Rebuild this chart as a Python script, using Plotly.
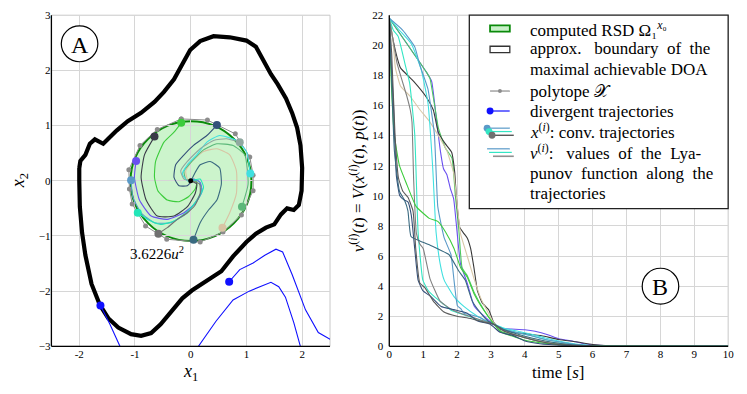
import plotly.graph_objects as go

W, H = 747, 394
SERIF = "Liberation Serif, DejaVu Serif, serif"

# ---------------- Panel A data ----------------
doa_x = [-2.00, -1.98, -1.89, -1.81, -1.72, -1.63, -1.57, -1.48, -1.33, -1.13, -0.89, -0.65, -0.48, -0.30,
         -0.15, -0.01, 0.17, 0.41, 0.70, 1.00, 1.17, 1.29, 1.44, 1.56, 1.71, 1.82, 1.91, 1.97, 2.00, 1.99,
         1.94, 1.85, 1.73, 1.62, 1.50, 1.35, 1.17, 1.00, 0.76, 0.55, 0.41, 0.20, 0.02, -0.15, -0.36, -0.54,
         -0.71, -0.89, -1.07, -1.30, -1.48, -1.63, -1.78, -1.89, -1.95, -1.99, -2.00, -2.00]
doa_y = [0.23, 0.36, 0.47, 0.67, 0.75, 0.71, 0.67, 0.76, 0.91, 1.08, 1.23, 1.43, 1.61, 1.84,
         2.13, 2.37, 2.53, 2.62, 2.60, 2.54, 2.43, 2.19, 1.93, 1.75, 1.49, 1.23, 0.96, 0.64, 0.23, -0.18,
         -0.44, -0.53, -0.50, -0.61, -0.79, -0.85, -0.96, -1.11, -1.37, -1.64, -1.73, -1.87, -1.99, -2.13, -2.37, -2.60,
         -2.76, -2.81, -2.78, -2.66, -2.49, -2.25, -1.87, -1.35, -0.94, -0.47, 0.0, 0.23]

rsd_center = (0.005, -0.005)
rsd_radius = 1.085
rsd_level_label = "3.6226<i>u</i><sup>2</sup>"

poly_x = [-0.17, -0.60, -0.91, -1.11, -1.10, -1.05, -0.81, -0.43, 0.17, 0.58, 0.91, 1.12, 1.12, 1.06, 0.80, 0.30, -0.17]
poly_y = [1.12, 0.93, 0.64, 0.20, -0.15, -0.42, -0.82, -1.06, -1.11, -0.93, -0.62, -0.18, 0.10, 0.43, 0.85, 1.10, 1.12]

traj = {
    "green":   ("#3ccc3c", [-0.17, -0.30, -0.48, -0.63, -0.65, -0.59, -0.42, -0.21, -0.04, 0.08, 0.11, 0.04, 0.0],
                           [1.05, 0.88, 0.70, 0.35, 0.06, -0.18, -0.35, -0.38, -0.29, -0.15, -0.03, 0.03, 0.0]),
    "navy":    ("#34507a", [0.47, 0.29, 0.05, -0.12, -0.27, -0.30, -0.21, -0.06, 0.02, 0.0],
                           [1.01, 0.82, 0.64, 0.47, 0.29, 0.06, -0.09, -0.09, 0.0, 0.0]),
    "black":   ("#3a3a48", [-0.65, -0.83, -0.89, -0.80, -0.60, -0.30, -0.06, 0.08, 0.11, 0.0],
                           [0.80, 0.47, 0.06, -0.35, -0.64, -0.64, -0.47, -0.23, -0.06, 0.0]),
    "purple":  ("#6a50f0", [-0.98, -1.01, -0.92, -0.71, -0.42, -0.12, 0.08, 0.20, 0.17, 0.05, 0.0],
                           [0.36, 0.06, -0.35, -0.64, -0.70, -0.58, -0.41, -0.20, -0.03, 0.03, 0.0]),
    "steel":   ("#5a9ac8", [-1.07, -1.04, -0.89, -0.65, -0.36, -0.06, 0.11, 0.20, 0.14, 0.0],
                           [0.01, -0.29, -0.58, -0.76, -0.76, -0.58, -0.35, -0.15, 0.0, 0.0]),
    "aqua":    ("#22e6b8", [-0.95, -0.77, -0.54, -0.30, -0.06, 0.14, 0.23, 0.17, 0.0],
                           [-0.58, -0.70, -0.79, -0.73, -0.56, -0.32, -0.12, 0.03, 0.0]),
    "gray":    ("#707070", [-0.58, -0.42, -0.24, -0.06, 0.08, 0.17, 0.16, 0.0],
                           [-0.96, -0.85, -0.70, -0.58, -0.44, -0.23, -0.06, 0.0]),
    "teal":    ("#3a6a80", [0.05, 0.17, 0.32, 0.47, 0.55, 0.52, 0.35, 0.17, 0.08, 0.02, 0.0],
                           [-1.07, -0.76, -0.53, -0.35, -0.06, 0.23, 0.35, 0.29, 0.15, 0.03, 0.0]),
    "tan":     ("#d8c4a4", [0.57, 0.70, 0.82, 0.82, 0.70, 0.47, 0.23, 0.02, -0.09, -0.06, 0.0],
                           [-0.85, -0.58, -0.23, 0.18, 0.47, 0.58, 0.53, 0.35, 0.18, 0.03, 0.0]),
    "seagreen": ("#5cb87a", [0.92, 1.03, 0.97, 0.76, 0.47, 0.23, 0.02, -0.12, -0.09, 0.0],
                            [-0.47, -0.06, 0.47, 0.64, 0.67, 0.56, 0.35, 0.18, 0.03, 0.0]),
    "cyan":    ("#40e0e0", [1.07, 1.00, 0.82, 0.52, 0.29, 0.11, -0.06, -0.15, -0.06, 0.0],
                           [0.13, 0.53, 0.73, 0.82, 0.70, 0.47, 0.29, 0.12, 0.0, 0.0]),
    "graygreen": ("#90a8a0", [0.88, 0.64, 0.41, 0.17, -0.06, -0.18, -0.12, 0.0],
                             [0.70, 0.76, 0.73, 0.58, 0.35, 0.18, 0.03, 0.0]),
}

div1_x = [-1.62, -1.45, -1.27, -1.0, 0.0, 0.14, 0.45, 0.76, 1.05, 1.35, 1.44, 1.58, 1.70, 1.85, 1.97, 2.05]
div1_y = [-2.26, -2.60, -3.00, -3.6, -3.6, -3.00, -2.55, -2.16, -2.00, -1.87, -1.84, -1.92, -2.11, -2.57, -3.00, -3.30]
div2_x = [0.69, 0.88, 1.12, 1.33, 1.53, 1.65, 1.82, 2.06, 2.29, 2.50, 2.70]
div2_y = [-1.83, -1.61, -1.49, -1.35, -1.24, -1.29, -1.70, -2.34, -2.75, -2.87, -2.90]

# ---------------- Panel B data ----------------
vcurves = {
    "purple": ("#6a50f0",
               [0, 1.1, 1.25, 1.4, 1.5, 1.6, 1.7, 1.8, 1.9, 2.0, 2.1, 2.3, 2.5, 2.7, 2.9, 3.1, 3.3, 3.6, 4.0, 4.3, 4.7, 5.0, 5.4, 5.8, 6.2, 6.7, 10],
               [21.8, 18.2, 17.6, 14.9, 13.1, 11.8, 11.4, 10.5, 9.8, 7.6, 5.5, 4.2, 2.7, 2.2, 1.8, 1.4, 1.2, 1.15, 1.1, 1.0, 0.75, 0.5, 0.35, 0.15, 0.06, 0, 0]),
    "seagreen": ("#4cc860",
                 [0, 1.1, 1.2, 1.45, 1.65, 1.85, 1.95, 2.05, 2.15, 2.3, 2.5, 2.8, 3.1, 3.3, 3.6, 4.0, 4.4, 4.8, 5.2, 5.6, 6.0, 6.6, 10],
                 [21.8, 18.2, 17.8, 14.5, 13.2, 12.5, 10.0, 7.8, 5.2, 4.7, 3.6, 2.4, 1.45, 1.0, 0.8, 0.6, 0.35, 0.25, 0.15, 0.08, 0.03, 0, 0]),
    "black": ("#3a3a3a",
              [0, 0.1, 0.23, 0.33, 0.72, 1.11, 1.3, 1.45, 1.64, 1.84, 1.93, 1.98, 2.08, 2.2, 2.3, 2.4, 2.5, 2.6, 2.74, 2.94, 3.08, 3.27, 3.6, 4.05, 4.5, 5.0, 5.5, 6.0, 6.5, 10],
              [21.8, 20.5, 19.2, 18.5, 17.6, 16.5, 15.7, 14.2, 13.5, 12.9, 11.6, 9.9, 7.9, 7.5, 7.2, 6.5, 5.2, 3.7, 2.9, 2.4, 1.6, 1.15, 0.95, 0.83, 0.7, 0.45, 0.3, 0.12, 0.03, 0]),
    "tan": ("#d8c8a8",
            [0, 0.1, 0.18, 0.33, 0.62, 0.91, 1.2, 1.5, 1.7, 1.9, 2.0, 2.1, 2.3, 2.5, 2.7, 2.9, 3.1, 3.4, 3.8, 4.2, 4.6, 5.0, 5.5, 6.0, 10],
            [21.8, 20.5, 18.5, 17.3, 16.6, 15.7, 14.9, 13.8, 13.0, 11.5, 9.5, 7.5, 6.0, 4.5, 3.2, 2.3, 1.5, 1.0, 0.7, 0.5, 0.3, 0.18, 0.08, 0.02, 0]),
    "aqua": ("#33e6c4",
             [0, 0.12, 0.26, 0.46, 0.6, 0.75, 0.85, 0.99, 1.15, 1.33, 1.6, 1.82, 2.2, 2.6, 2.9, 3.1, 3.4, 3.8, 4.2, 4.6, 5.0, 5.5, 6.0, 10],
             [21.8, 21.0, 20.6, 18.8, 17.5, 14.1, 7.6, 4.4, 3.7, 3.3, 2.8, 2.4, 2.1, 1.8, 1.6, 1.45, 1.15, 0.9, 0.7, 0.45, 0.3, 0.12, 0.03, 0]),
    "cyan": ("#40e0e0",
             [0, 0.3, 0.65, 0.94, 1.14, 1.28, 1.38, 1.5, 1.62, 1.91, 2.2, 2.6, 2.9, 3.1, 3.4, 3.8, 4.2, 4.6, 5.0, 5.5, 6.0, 10],
             [21.8, 21.0, 20.1, 18.4, 16.2, 11.9, 7.6, 5.5, 4.4, 3.3, 2.65, 2.0, 1.65, 1.45, 1.2, 1.0, 0.8, 0.55, 0.35, 0.15, 0.04, 0]),
    "steel": ("#5a9ac8",
              [0, 0.4, 0.75, 0.9, 1.14, 1.33, 1.43, 1.53, 1.62, 1.82, 1.91, 2.01, 2.11, 2.2, 2.4, 2.7, 2.9, 3.1, 3.4, 3.8, 4.2, 4.6, 5.0, 5.5, 6.0, 10],
              [21.8, 21.0, 19.9, 18.7, 17.1, 14.1, 9.3, 8.1, 7.2, 6.1, 4.4, 2.7, 2.5, 2.2, 2.1, 1.9, 1.6, 1.45, 1.1, 0.9, 0.7, 0.45, 0.3, 0.12, 0.03, 0]),
    "gray": ("#808080",
             [0, 0.1, 0.23, 0.52, 0.62, 0.67, 0.72, 0.8, 0.9, 1.0, 1.2, 1.5, 1.8, 2.1, 2.5, 2.9, 3.1, 3.4, 3.8, 4.2, 4.6, 5.0, 5.5, 6.0, 10],
             [21.8, 20.5, 18.8, 16.6, 15.7, 14.9, 11.0, 7.5, 6.8, 6.5, 4.5, 3.0, 2.5, 2.2, 1.9, 1.6, 1.45, 1.0, 0.7, 0.45, 0.25, 0.15, 0.06, 0.02, 0]),
    "green": ("#3ccc3c",
              [0, 0.05, 0.15, 0.3, 0.5, 0.79, 1.18, 1.43, 1.66, 1.91, 2.11, 2.3, 2.5, 2.79, 3.1, 3.3, 3.6, 4.0, 4.4, 4.8, 5.2, 5.6, 6.0, 10],
              [21.8, 18.0, 14.0, 12.0, 10.85, 9.3, 8.5, 8.3, 7.6, 6.5, 5.2, 4.6, 3.5, 2.4, 1.45, 0.95, 0.7, 0.4, 0.25, 0.15, 0.07, 0.03, 0.01, 0]),
    "navy": ("#34507a",
             [0, 0.05, 0.12, 0.21, 0.31, 0.45, 0.55, 0.65, 0.75, 0.85, 0.99, 1.23, 1.53, 1.91, 2.3, 2.59, 2.98, 3.27, 3.66, 3.96, 4.44, 5.2, 6.2, 10],
             [21.8, 19.0, 16.2, 11.3, 10.0, 9.7, 9.6, 8.7, 6.5, 4.4, 3.7, 3.3, 2.65, 2.44, 2.2, 1.7, 1.47, 0.93, 0.71, 0.39, 0.17, 0.06, 0.0, 0]),
    "teal": ("#3a6a80",
             [0, 0.05, 0.15, 0.3, 0.45, 0.55, 0.64, 0.9, 1.18, 1.5, 1.76, 2.05, 2.24, 2.45, 2.7, 2.9, 3.1, 3.4, 3.8, 4.2, 4.6, 5.0, 5.5, 6.0, 10],
             [21.8, 19.0, 13.0, 10.3, 9.7, 9.0, 7.3, 7.0, 6.75, 6.4, 6.1, 5.0, 4.4, 3.0, 2.2, 1.7, 1.45, 1.1, 0.8, 0.55, 0.35, 0.2, 0.08, 0.02, 0]),
    "dgray": ("#5a5a5a",
              [0, 0.07, 0.17, 0.27, 0.4, 0.55, 0.7, 0.78, 0.9, 1.05, 1.3, 1.6, 2.0, 2.4, 2.8, 3.1, 3.4, 3.8, 4.2, 4.6, 5.0, 5.6, 6.2, 10],
              [21.8, 19.5, 14.0, 11.2, 10.3, 9.9, 9.0, 6.5, 4.2, 3.9, 3.0, 2.3, 2.0, 1.85, 1.6, 1.45, 1.0, 0.7, 0.45, 0.25, 0.12, 0.04, 0.0, 0]),
}

x1_ticks = [-2, -1, 0, 1, 2]
x1_labels = ["-2", "-1", "0", "1", "2"]
x2_ticks = [-3, -2, -1, 0, 1, 2, 3]
x2_labels = ["−3", "−2", "−1", "0", "1", "2", "3"]
t_ticks = list(range(0, 11))
v_ticks = list(range(0, 23, 2))

# ---------------- figure ----------------
fig = go.Figure()

def px(x):
    return x / W

def py(y):
    return 1 - y / H

# DOA band
fig.add_trace(go.Scatter(x=doa_x, y=doa_y, mode="lines", line=dict(color="black", width=4.2),
                         xaxis="x", yaxis="y", showlegend=False, hoverinfo="skip"))
# polytope
fig.add_trace(go.Scatter(x=poly_x, y=poly_y, mode="lines+markers", line=dict(color="#8c8c8c", width=1),
                         marker=dict(color="#8c8c8c", size=5), xaxis="x", yaxis="y", showlegend=False))
# trajectories
for name, (col, xs, ys) in traj.items():
    fig.add_trace(go.Scatter(x=xs, y=ys, mode="lines", line=dict(color=col, width=1.1, shape="spline", smoothing=0.5),
                             xaxis="x", yaxis="y", showlegend=False))
for name, (col, xs, ys) in traj.items():
    fig.add_trace(go.Scatter(x=[xs[0]], y=[ys[0]], mode="markers", marker=dict(color=col, size=8),
                             xaxis="x", yaxis="y", showlegend=False))
fig.add_trace(go.Scatter(x=[0], y=[0], mode="markers", marker=dict(color="black", size=5),
                         xaxis="x", yaxis="y", showlegend=False))
# divergent
for xs, ys in [(div1_x, div1_y), (div2_x, div2_y)]:
    fig.add_trace(go.Scatter(x=xs, y=ys, mode="lines", line=dict(color="#1010ff", width=1.1),
                             xaxis="x", yaxis="y", showlegend=False))
    fig.add_trace(go.Scatter(x=[xs[0]], y=[ys[0]], mode="markers", marker=dict(color="#1010ff", size=8),
                             xaxis="x", yaxis="y", showlegend=False))

# v curves
for name, (col, ts, vs) in vcurves.items():
    fig.add_trace(go.Scatter(x=ts, y=vs, mode="lines", line=dict(color=col, width=1.1, shape="spline", smoothing=0.4),
                             xaxis="x2", yaxis="y2", showlegend=False))

tickfont = dict(family=SERIF, size=11, color="black")
grid = "#d6d6d6"
axcommon = dict(showgrid=True, gridcolor=grid, gridwidth=1, zeroline=False, showline=False,
                ticks="", tickfont=tickfont)
LX0, LX1, TOP, BOT = 49, 331, 9.5, 351
RX0, RX1 = 391, 734
fig.update_layout(
    width=W, height=H, margin=dict(l=0, r=0, t=0, b=0),
    paper_bgcolor="white", plot_bgcolor="white",
    font=dict(family=SERIF),
    xaxis=dict(domain=[px(LX0), px(LX1)], range=[-2.5, 2.5], tickvals=x1_ticks, ticktext=x1_labels,
               anchor="y", **axcommon),
    yaxis=dict(domain=[py(BOT), py(TOP)], range=[-3, 3], tickvals=x2_ticks, ticktext=x2_labels,
               anchor="x", **axcommon),
    xaxis2=dict(domain=[px(RX0), px(RX1)], range=[0, 10], tickvals=t_ticks, anchor="y2", **axcommon),
    yaxis2=dict(domain=[py(BOT), py(TOP)], range=[0, 22], tickvals=v_ticks, anchor="x2",
                ticklabelstandoff=5, **axcommon),
)

shapes = []
# RSD ellipse
shapes.append(dict(type="circle", xref="x", yref="y", layer="below",
                   x0=rsd_center[0] - rsd_radius, x1=rsd_center[0] + rsd_radius,
                   y0=rsd_center[1] - rsd_radius, y1=rsd_center[1] + rsd_radius,
                   fillcolor="rgba(0,200,0,0.2)", line=dict(color="#0a8a0a", width=2)))
# frames
for x0, x1 in [(LX0, LX1), (RX0, RX1)]:
    shapes.append(dict(type="rect", xref="paper", yref="paper", x0=px(x0), x1=px(x1), y0=py(BOT), y1=py(TOP),
                       line=dict(color="#c8c8c8", width=1), layer="below"))
    shapes.append(dict(type="line", xref="paper", yref="paper", x0=px(x0), x1=px(x0), y0=py(BOT), y1=py(TOP),
                       line=dict(color="black", width=1.3)))
    shapes.append(dict(type="line", xref="paper", yref="paper", x0=px(x0), x1=px(x1), y0=py(BOT), y1=py(BOT),
                       line=dict(color="black", width=1.3)))
# circled labels
for cx, cy in [(77.5, 39), (665.5, 289)]:
    r = 18.5
    shapes.append(dict(type="circle", xref="paper", yref="paper", x0=px(cx - r), x1=px(cx + r),
                       y0=py(cy + r), y1=py(cy - r), fillcolor="white", line=dict(color="black", width=1.2)))
# legend box
shapes.append(dict(type="rect", xref="paper", yref="paper", x0=px(472), x1=px(734), y0=py(209), y1=py(9.5),
                   fillcolor="white", line=dict(color="#222", width=1.3)))
# legend symbols
shapes.append(dict(type="rect", xref="paper", yref="paper", x0=px(493), x1=px(513), y0=py(26.5), y1=py(20),
                   fillcolor="#c8f0c8", line=dict(color="#0a8a0a", width=1.8)))
shapes.append(dict(type="rect", xref="paper", yref="paper", x0=px(493), x1=px(513), y0=py(48), y1=py(41.5),
                   fillcolor="white", line=dict(color="#333", width=1.3)))
def hline(x0, x1, y, col, w=1.2):
    shapes.append(dict(type="line", xref="paper", yref="paper", x0=px(x0), x1=px(x1), y0=py(y), y1=py(y),
                       line=dict(color=col, width=w)))
def dot(x, y, col, r):
    shapes.append(dict(type="circle", xref="paper", yref="paper", x0=px(x - r), x1=px(x + r),
                       y0=py(y + r), y1=py(y - r), fillcolor=col, line=dict(color=col, width=0)))
hline(493, 513, 87.7, "#8c8c8c")
dot(503, 87.7, "#8c8c8c", 2)
hline(493, 513, 108.3, "#1010ff")
dot(493, 108.3, "#1010ff", 3.5)
hline(490, 513, 126, "#5a9ac8")
hline(492, 515, 129.5, "#33e6c4")
hline(495, 517, 133.3, "#3a3a3a")
dot(490, 126, "#5a9ac8", 3.5)
dot(492, 129.5, "#33e6c4", 3.5)
dot(495, 133.3, "#707070", 3.5)
hline(490, 513, 147.3, "#5a9ac8")
hline(492, 515, 151, "#33e6c4")
hline(496, 517, 155, "#909090", 1.6)

fig.update_layout(shapes=shapes)

ann = []
def text(x, y, s, size=17, xanchor="left", angle=0):
    ann.append(dict(x=px(x), y=py(y), xref="paper", yref="paper", text=s, showarrow=False,
                    xanchor=xanchor, yanchor="middle", textangle=angle,
                    font=dict(family=SERIF, size=size, color="black")))
legend_lines = [
    (23.3, "computed RSD Ω₁<sup><i>x</i>₀</sup>"),
    (44.3, "approx.&nbsp;&nbsp; boundary&nbsp; of&nbsp; the"),
    (65.7, "maximal achievable DOA"),
    (87.7, "polytope 𝒳"),
    (108.3, "divergent trajectories"),
    (129.3, "<i>x</i><sup>(<i>i</i>)</sup>: conv. trajectories"),
    (151, "<i>v</i><sup>(<i>i</i>)</sup>:&nbsp;&nbsp; values&nbsp; of&nbsp; the&nbsp; Lya-"),
    (172.7, "punov&nbsp; function&nbsp; along&nbsp; the"),
    (193.3, "trajectories"),
]
for yy, s in legend_lines:
    text(531.7, yy, s, size=17)

text(77.5, 40, "A", size=24, xanchor="center")
text(665.5, 290, "B", size=24, xanchor="center")
text(156, 255, rsd_level_label, size=15, xanchor="center")
text(190, 378, "<i>x</i><sub>1</sub>", size=18, xanchor="center")
text(17, 180, "<i>x</i><sub>2</sub>", size=18, xanchor="center", angle=-90)
text(562, 378, "time [<i>s</i>]", size=17, xanchor="center")
text(358, 180, "<i>v</i><sup>(<i>i</i>)</sup>(<i>t</i>) = <i>V</i>(<i>x</i><sup>(<i>i</i>)</sup>(<i>t</i>), <i>p</i>(<i>t</i>))",
     size=17, xanchor="center", angle=-90)
fig.update_layout(annotations=ann)

fig.write_html("out.html")
